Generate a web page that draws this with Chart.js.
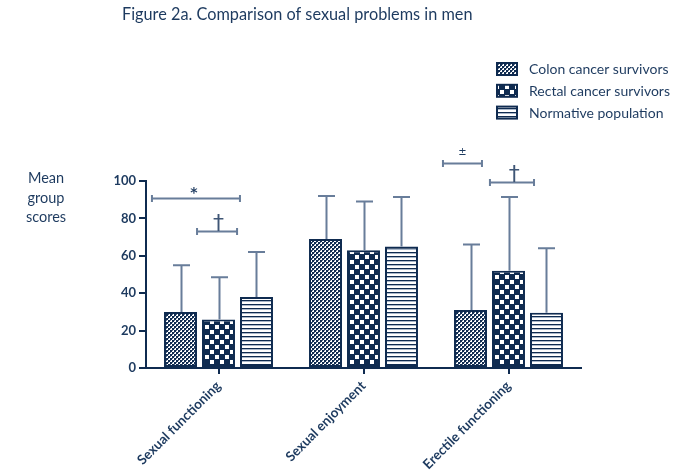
<!DOCTYPE html>
<html>
<head>
<meta charset="utf-8">
<script src="https://cdn.jsdelivr.net/npm/chart.js@4.4.1/dist/chart.umd.min.js"></script>
<style>
  html, body { margin: 0; padding: 0; background: #ffffff; }
  #wrap { width: 677px; height: 471px; position: relative; }
</style>
</head>
<body>
<div id="wrap"><canvas id="chart" width="677" height="471"></canvas></div>
<script>
// ---- data ----
const categories = ['Sexual functioning', 'Sexual enjoyment', 'Erectile functioning'];
const seriesNames = ['Colon cancer survivors', 'Rectal cancer survivors', 'Normative population'];
const colonMeans = [30, 69, 31];
const colonSD = [25, 23, 35];
const rectalMeans = [26, 63, 52];
const rectalSD = [22.5, 26, 39.5];
const normativeMeans = [38, 65, 29.5];
const normativeSD = [24, 26.5, 34.5];
const yTicks = [0, 20, 40, 60, 80, 100];
const titleText = 'Figure 2a. Comparison of sexual problems in men';
const yTitleLines = ['Mean', 'group', 'scores'];
// significance brackets: category index, span offsets (in category widths), level, symbol
const sigCategory = [0, 0, 2, 2];
const sigFrom = [-0.459, -0.148, -0.452, -0.128];
const sigTo = [0.148, 0.128, -0.183, 0.176];
const sigLevel = [90.9, 73.4, 109.6, 99.5];
const sigSymbol = ['*', '\u2020', '\u00B1', '\u2020'];
const sigSymbolAt = [-0.17, 0.0, -0.318, 0.04];

// ---- styling ----
const NAVY = '#0f2b50';
const TEXT = '#1d3a5f';
const WHISKER = '#687d9a';
const FONT = 'Lato';

function makePattern(w, h, draw) {
  const c = document.createElement('canvas');
  c.width = w; c.height = h;
  const g = c.getContext('2d');
  g.fillStyle = '#ffffff';
  g.fillRect(0, 0, w, h);
  draw(g);
  return document.getElementById('chart').getContext('2d').createPattern(c, 'repeat');
}
// fine check
const fineCheck = makePattern(4, 4, g => {
  g.fillStyle = NAVY;
  g.fillRect(0, 0, 2, 2);
  g.fillRect(2, 2, 2, 2);
  g.fillStyle = '#5c6f8a';
  g.fillRect(2, 0, 1, 1);
  g.fillRect(0, 2, 1, 1);
});
// coarse check
const coarseCheck = makePattern(10, 10, g => {
  g.fillStyle = NAVY;
  g.fillRect(0, 0, 10, 10);
  g.fillStyle = '#ffffff';
  g.fillRect(0, 0, 4, 4);
  g.fillRect(5, 5, 4, 4);
});
// horizontal stripes
const stripes = makePattern(4, 4, g => {
  g.fillStyle = NAVY;
  g.fillRect(0, 0, 4, 1);
  g.fillStyle = '#a9b7c9';
  g.fillRect(0, 1, 4, 1);
});
const fills = [fineCheck, coarseCheck, stripes];
const sds = [colonSD, rectalSD, normativeSD];

// error bars (upper whisker only), brackets, titles and legend
const decorations = {
  id: 'decorations',
  afterDatasetsDraw(chart) {
    const ctx = chart.ctx;
    const ys = chart.scales.y;
    ctx.save();
    ctx.strokeStyle = WHISKER;
    ctx.lineWidth = 2;
    chart.data.datasets.forEach((ds, i) => {
      const meta = chart.getDatasetMeta(i);
      meta.data.forEach((bar, j) => {
        const top = ys.getPixelForValue(ds.data[j] + sds[i][j]);
        const x = Math.round(bar.x) + 0.5;
        ctx.beginPath();
        ctx.moveTo(x, bar.y);
        ctx.lineTo(x, top);
        ctx.moveTo(x - 8.5, top);
        ctx.lineTo(x + 8.5, top);
        ctx.stroke();
      });
    });
    ctx.restore();
  },
  afterDraw(chart) {
    const ctx = chart.ctx;
    const xs = chart.scales.x;
    const ys = chart.scales.y;
    const catW = xs.getPixelForValue(1) - xs.getPixelForValue(0);
    ctx.save();

    // title
    ctx.fillStyle = TEXT;
    ctx.textAlign = 'left';
    ctx.textBaseline = 'alphabetic';
    ctx.font = `16.3px ${FONT}`;
    ctx.fillText(titleText, 122, 20);

    // y axis title
    ctx.font = `14.5px ${FONT}`;
    ctx.textAlign = 'center';
    yTitleLines.forEach((t, k) => ctx.fillText(t, 46, 183 + k * 19.7));

    // legend
    ctx.font = `14px ${FONT}`;
    ctx.textAlign = 'left';
    seriesNames.forEach((name, k) => {
      const base = 74 + k * 21.8;
      ctx.fillStyle = fills[k];
      ctx.fillRect(497, base - 11, 20, 12);
      ctx.strokeStyle = NAVY;
      ctx.lineWidth = 2;
      ctx.strokeRect(497, base - 11, 20, 12);
      ctx.fillStyle = TEXT;
      ctx.fillText(name, 529, base);
    });

    // significance brackets
    ctx.strokeStyle = WHISKER;
    ctx.lineWidth = 2;
    sigSymbol.forEach((sym, k) => {
      const c = xs.getPixelForValue(sigCategory[k]);
      const x0 = c + sigFrom[k] * catW;
      const x1 = c + sigTo[k] * catW;
      const y = Math.round(ys.getPixelForValue(sigLevel[k])) + 0.5;
      ctx.beginPath();
      ctx.moveTo(x0, y); ctx.lineTo(x1, y);
      ctx.moveTo(x0, y - 3.5); ctx.lineTo(x0, y + 3.5);
      ctx.moveTo(x1, y - 3.5); ctx.lineTo(x1, y + 3.5);
      ctx.stroke();
      const sx = c + sigSymbolAt[k] * catW;
      ctx.textAlign = 'center';
      if (sym === '\u2020') {
        ctx.fillStyle = '#3f5676';
        ctx.font = `22px 'DejaVu Sans'`;
        ctx.fillText(sym, sx, y - 2);
      } else if (sym === '*') {
        ctx.fillStyle = TEXT;
        ctx.font = `bold 14px 'DejaVu Sans'`;
        ctx.fillText(sym, sx, y - 2);
      } else {
        ctx.fillStyle = TEXT;
        ctx.font = `10px 'DejaVu Sans'`;
        ctx.fillText(sym, sx, y - 9);
      }
    });
    ctx.restore();
  }
};

function build() {
  new Chart(document.getElementById('chart'), {
    type: 'bar',
    data: {
      labels: categories,
      datasets: [
        { label: seriesNames[0], data: colonMeans, backgroundColor: fineCheck },
        { label: seriesNames[1], data: rectalMeans, backgroundColor: coarseCheck },
        { label: seriesNames[2], data: normativeMeans, backgroundColor: stripes }
      ]
    },
    options: {
      responsive: false,
      animation: false,
      layout: { padding: { left: 0, right: 96, top: 181, bottom: 0 } },
      datasets: {
        bar: {
          categoryPercentage: 0.786,
          barPercentage: 0.868,
          borderColor: NAVY,
          borderWidth: 2,
          borderSkipped: false
        }
      },
      plugins: {
        legend: { display: false },
        title: { display: false },
        tooltip: { enabled: false }
      },
      scales: {
        x: {
          grid: { offset: false, drawOnChartArea: false, drawTicks: true, tickLength: 6, color: NAVY, lineWidth: 2 },
          border: { display: true, color: NAVY, width: 2 },
          ticks: {
            minRotation: 45, maxRotation: 45, autoSkip: false, padding: 4,
            color: TEXT, font: { family: FONT, size: 13.5, weight: 'bold' }
          },
          afterFit(s) { s.height = 103; }
        },
        y: {
          min: 0, max: 100,
          afterBuildTicks(s) { s.ticks = yTicks.map(v => ({ value: v })); },
          grid: { drawOnChartArea: false, drawTicks: true, tickLength: 7, color: NAVY, lineWidth: 2 },
          border: { display: true, color: NAVY, width: 2 },
          ticks: { padding: 3, color: TEXT, font: { family: FONT, size: 13, weight: 'bold' } },
          afterFit(s) { s.width = 146; }
        }
      }
    },
    plugins: [decorations]
  });
}

Promise.all([
  document.fonts.load(`16px ${FONT}`),
  document.fonts.load(`bold 13px ${FONT}`),
  document.fonts.load(`14px 'DejaVu Sans'`)
]).then(build, build);
</script>
</body>
</html>
